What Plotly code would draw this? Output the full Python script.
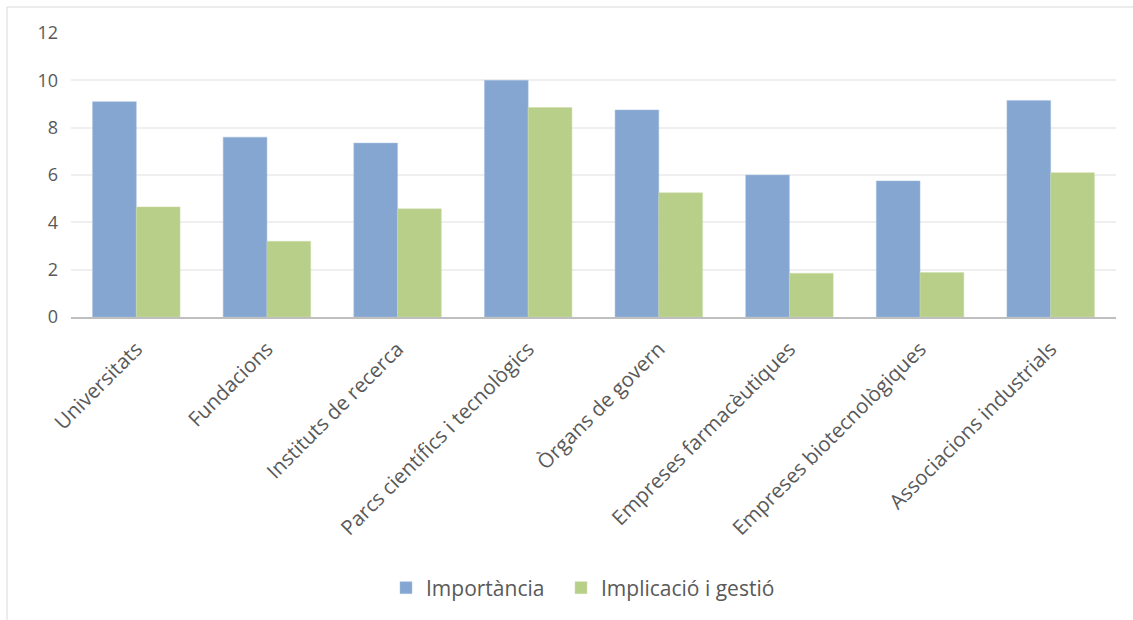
import plotly.graph_objects as go

categories = ["Universitats", "Fundacions", "Instituts de recerca", "Parcs científics i tecnològics",
              "Òrgans de govern", "Empreses farmacèutiques", "Empreses biotecnològiques", "Associacions industrials"]
importancia = [9.1, 7.6, 7.35, 10.0, 8.75, 6.0, 5.75, 9.15]
implicacio = [4.65, 3.2, 4.57, 8.85, 5.25, 1.85, 1.88, 6.1]
series_names = ["Importància", "Implicació i gestió"]
y_ticks = [0, 2, 4, 6, 8, 10, 12]

FONT = "Open Sans"
GRAY = "#595959"

fig = go.Figure()
fig.add_trace(go.Bar(x=categories, y=importancia, name=series_names[0], legend="legend",
                     marker=dict(color="#84A6D1", line=dict(color="#A9C2E0", width=0.5))))
fig.add_trace(go.Bar(x=categories, y=implicacio, name=series_names[1], legend="legend2",
                     marker=dict(color="#B8CF8A", line=dict(color="#CCDDAA", width=0.5))))

L, R, T, B = 71, 17, 33, 303
W, H = 1133, 620
pw, ph = W - L - R, H - T - B
leg_y = (ph - (588 - T)) / ph

leg_common = dict(orientation="h", xanchor="left", y=leg_y, yanchor="middle",
                  font=dict(family=FONT, size=21, color=GRAY), itemwidth=30,
                  bgcolor="rgba(0,0,0,0)")

fig.update_layout(
    width=W, height=H,
    margin=dict(l=L, r=R, t=T, b=B),
    paper_bgcolor="white", plot_bgcolor="white",
    barmode="group", bargap=0.33, bargroupgap=0,
    font=dict(family=FONT, size=18, color=GRAY),
    showlegend=True,
    legend=dict(x=(386 - L) / pw, **leg_common),
    legend2=dict(x=(561 - L) / pw, **leg_common),
    xaxis=dict(tickangle=-45, tickfont=dict(family=FONT, size=20.5, color=GRAY),
               showline=True, linecolor="#BFBFBF", linewidth=2, ticks="", ticklabelstandoff=10,
               showgrid=False, fixedrange=True),
    yaxis=dict(range=[0, 12], tickvals=y_ticks, showgrid=True, gridcolor="#EFEFEF", gridwidth=1.5,
               zeroline=False, showline=False, ticks="", ticklabelstandoff=12,
               tickfont=dict(family=FONT, size=18, color=GRAY), fixedrange=True),
    shapes=[dict(type="rect", xref="paper", yref="paper",
                 x0=(7 - L) / pw, x1=(W + 20 - L) / pw,
                 y0=(ph - (H + 20 - T)) / ph, y1=(ph - (7 - T)) / ph,
                 line=dict(color="#D9D9D9", width=1), fillcolor="rgba(0,0,0,0)", layer="below")],
)

fig.write_html("out.html")
